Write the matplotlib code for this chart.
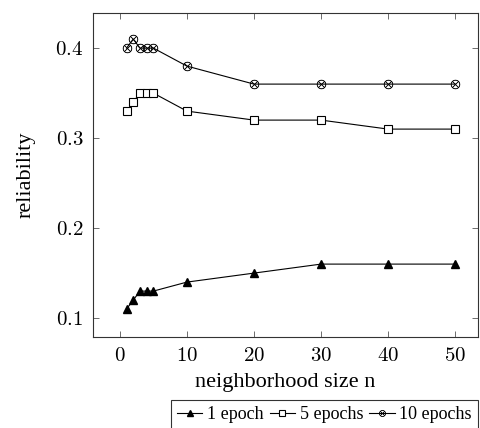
import matplotlib
matplotlib.use("Agg")
import matplotlib.pyplot as plt
from matplotlib.ticker import FuncFormatter

plt.rcParams.update({
    "font.family": "Liberation Serif",
    "mathtext.fontset": "cm",
    "font.size": 14,
    "xtick.direction": "in",
    "ytick.direction": "in",
    "xtick.top": True,
    "ytick.right": True,
})

NEIGHBORHOOD = [1, 2, 3, 4, 5, 10, 20, 30, 40, 50]
EPOCH_1 = [0.11, 0.12, 0.13, 0.13, 0.13, 0.14, 0.15, 0.16, 0.16, 0.16]
EPOCH_5 = [0.33, 0.34, 0.35, 0.35, 0.35, 0.33, 0.32, 0.32, 0.31, 0.31]
EPOCH_10 = [0.40, 0.41, 0.40, 0.40, 0.40, 0.38, 0.36, 0.36, 0.36, 0.36]

X_TICKS = [0, 10, 20, 30, 40, 50]
Y_TICKS = [0.1, 0.2, 0.3, 0.4]

fig = plt.figure(figsize=(4.8, 4.28), dpi=100)
ax = fig.add_axes([93 / 480, 1 - 337 / 428, 385 / 480, 324 / 428])

ax.plot(NEIGHBORHOOD, EPOCH_1, color="black", lw=0.8, marker="^",
        markersize=5.5, markerfacecolor="black", label="1 epoch")
ax.plot(NEIGHBORHOOD, EPOCH_5, color="black", lw=0.8, marker="s",
        markersize=6, markerfacecolor="white", markeredgewidth=0.8,
        label="5 epochs")
ax.plot(NEIGHBORHOOD, EPOCH_10, color="black", lw=0.8, marker="$\\otimes$",
        markersize=6.5, markeredgewidth=0.3, label="10 epochs")

ax.set_xlim(-4.0, 53.4)
ax.set_ylim(0.079, 0.439)
ax.set_xticks(X_TICKS)
ax.set_yticks(Y_TICKS)
ax.xaxis.set_major_formatter(FuncFormatter(lambda v, p: f"${v:g}$"))
ax.yaxis.set_major_formatter(FuncFormatter(lambda v, p: f"${v:.1f}$"))
ax.tick_params(labelsize=15, length=4, width=0.6, color="#555555", pad=7)
for sp in ax.spines.values():
    sp.set_linewidth(0.8)
    sp.set_color("#333333")

ax.set_xlabel("neighborhood size n", fontsize=16, labelpad=5)
ax.set_ylabel("reliability", fontsize=16, labelpad=14)

leg = fig.legend(loc="upper right", bbox_to_anchor=(478 / 480, 1 - 400 / 428),
                 ncol=3, frameon=True, fancybox=False, edgecolor="black",
                 handlelength=1.4, handletextpad=0.25, columnspacing=0.35,
                 borderpad=0.35, borderaxespad=0, fontsize=13,
                 markerscale=0.7)
leg.get_frame().set_linewidth(0.8)

fig.savefig("out.png", dpi=100)
